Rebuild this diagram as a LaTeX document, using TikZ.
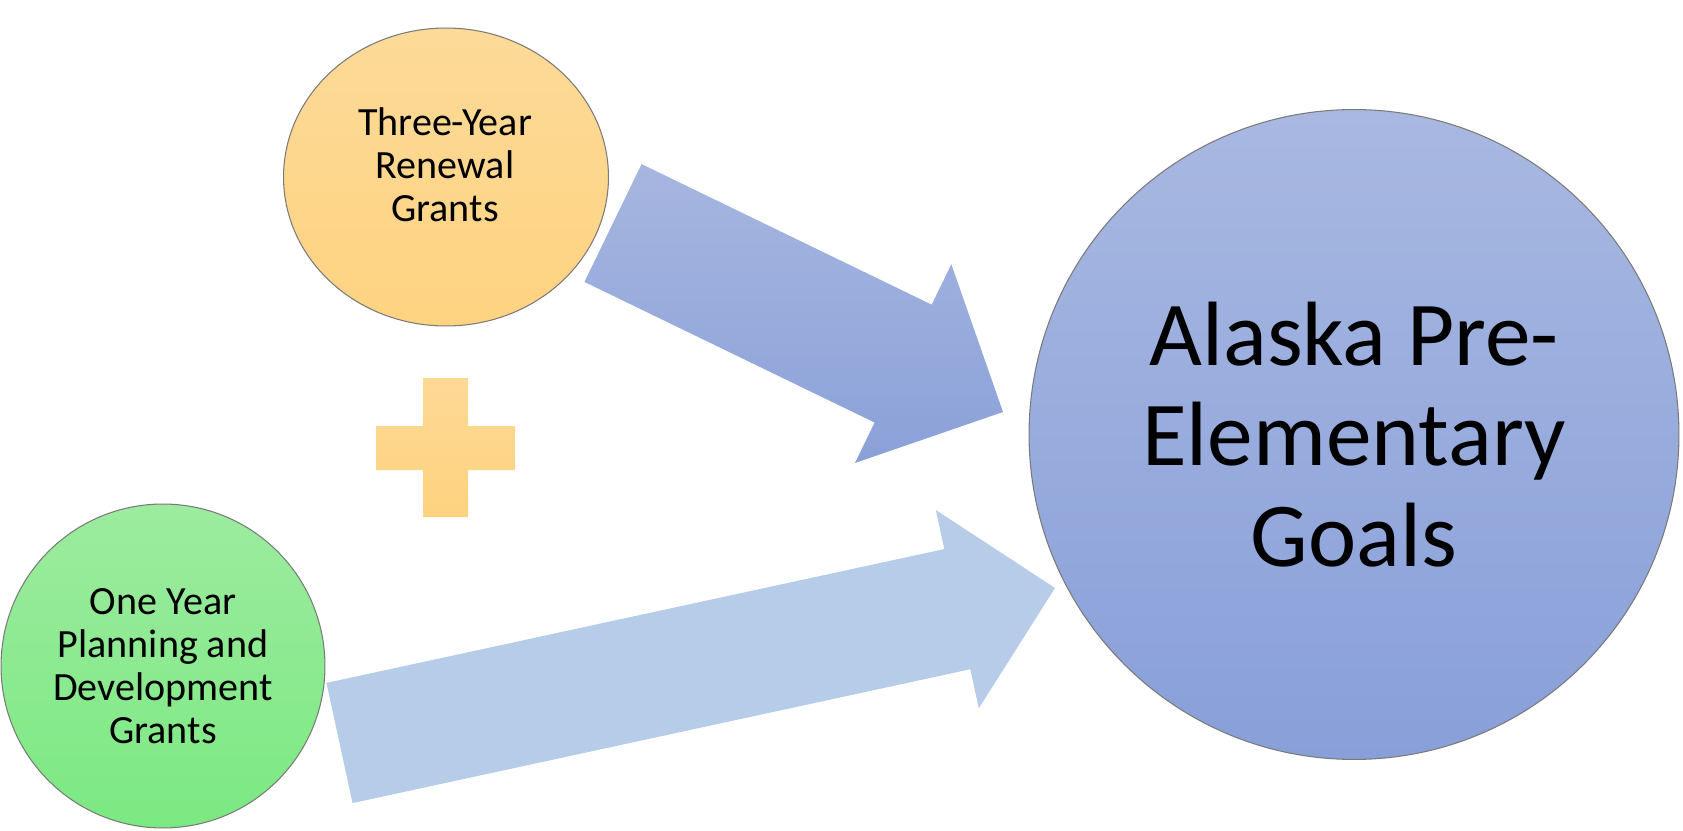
\documentclass[tikz,border=0pt]{standalone}
\usepackage{fontspec}
\setmainfont{Carlito}
\usetikzlibrary{calc,shapes.geometric}
\definecolor{cRenewTop}{HTML}{FDDA98}
\definecolor{cRenewBot}{HTML}{FED381}
\definecolor{cPlanTop}{HTML}{9DEB9F}
\definecolor{cPlanBot}{HTML}{7BE982}
\definecolor{cGoalTop}{HTML}{A8B8E1}
\definecolor{cGoalBot}{HTML}{889FD9}
\definecolor{cArrTop}{HTML}{A7B6E0}
\definecolor{cArrBot}{HTML}{8AA1D8}
\definecolor{cArrLight}{HTML}{B7CCE8}
\definecolor{cPlusTop}{HTML}{FED996}
\definecolor{cPlusBot}{HTML}{FED27E}
\definecolor{cRim}{HTML}{7A7A7A}
\tikzset{
  bubble/.style={draw=cRim, line width=0.6pt, align=center, inner sep=0pt},
  grantfont/.style={font=\fontsize{22.8}{24.5}\selectfont},
  goalfont/.style={font=\fontsize{52}{57}\selectfont},
}
% block arrow: [options] tail, tip, shaft half width, head half width, head length
\newcommand{\blockarrow}[6][]{%
  \path ($(#3)!#6!(#2)$) coordinate (#3-base);
  \shade[#1] ($(#2)!#4!90:(#3)$) -- ($(#3-base)!#4!90:(#3)$)
    -- ($(#3-base)!#5!90:(#3)$) -- (#3)
    -- ($(#3-base)!#5!-90:(#3)$) -- ($(#3-base)!#4!-90:(#3)$)
    -- ($(#2)!#4!-90:(#3)$) -- cycle;
}

\begin{document}
\begin{tikzpicture}[x=0.02cm, y=-0.02cm]
  \useasboundingbox (0,0) rectangle (1683,831);
  % grant bubbles
  \node[bubble, ellipse, minimum width=6.5cm, minimum height=5.96cm,
        top color=cRenewTop, bottom color=cRenewBot] (renewal) at (446,177) {};
  \node[grantfont, align=center] (renewaltxt) at (445,165) {Three-Year\\Renewal\\Grants};
  \node[bubble, circle, minimum size=6.48cm, grantfont,
        top color=cPlanTop, bottom color=cPlanBot] (planning) at (163,666)
        {One Year\\Planning and\\Development\\Grants};
  \node[bubble, circle, minimum size=13cm, goalfont,
        top color=cGoalTop, bottom color=cGoalBot] (goals) at (1354,434.5)
        {Alaska Pre-\\Elementary\\Goals};
  % plus sign
  \shade[top color=cPlusTop, bottom color=cPlusBot]
    (423,378) -- (468,378) -- (468,426) -- (515,426) -- (515,470) -- (468,470)
    -- (468,517) -- (423,517) -- (423,470) -- (376,470) -- (376,426) -- (423,426) -- cycle;
  % arrows into the goals
  \coordinate (renewtail) at (613,223);
  \coordinate (renewtip) at (1003,412);
  \coordinate (plantail) at (339.5,743);
  \coordinate (plantip) at (1055,588);
  \blockarrow[top color=cArrTop, bottom color=cArrBot]{renewtail}{renewtip}{1.31cm}{2.21cm}{2.22cm}
  \blockarrow[top color=cArrLight, bottom color=cArrLight]{plantail}{plantip}{1.23cm}{2.03cm}{2.0cm}
\end{tikzpicture}
\end{document}
